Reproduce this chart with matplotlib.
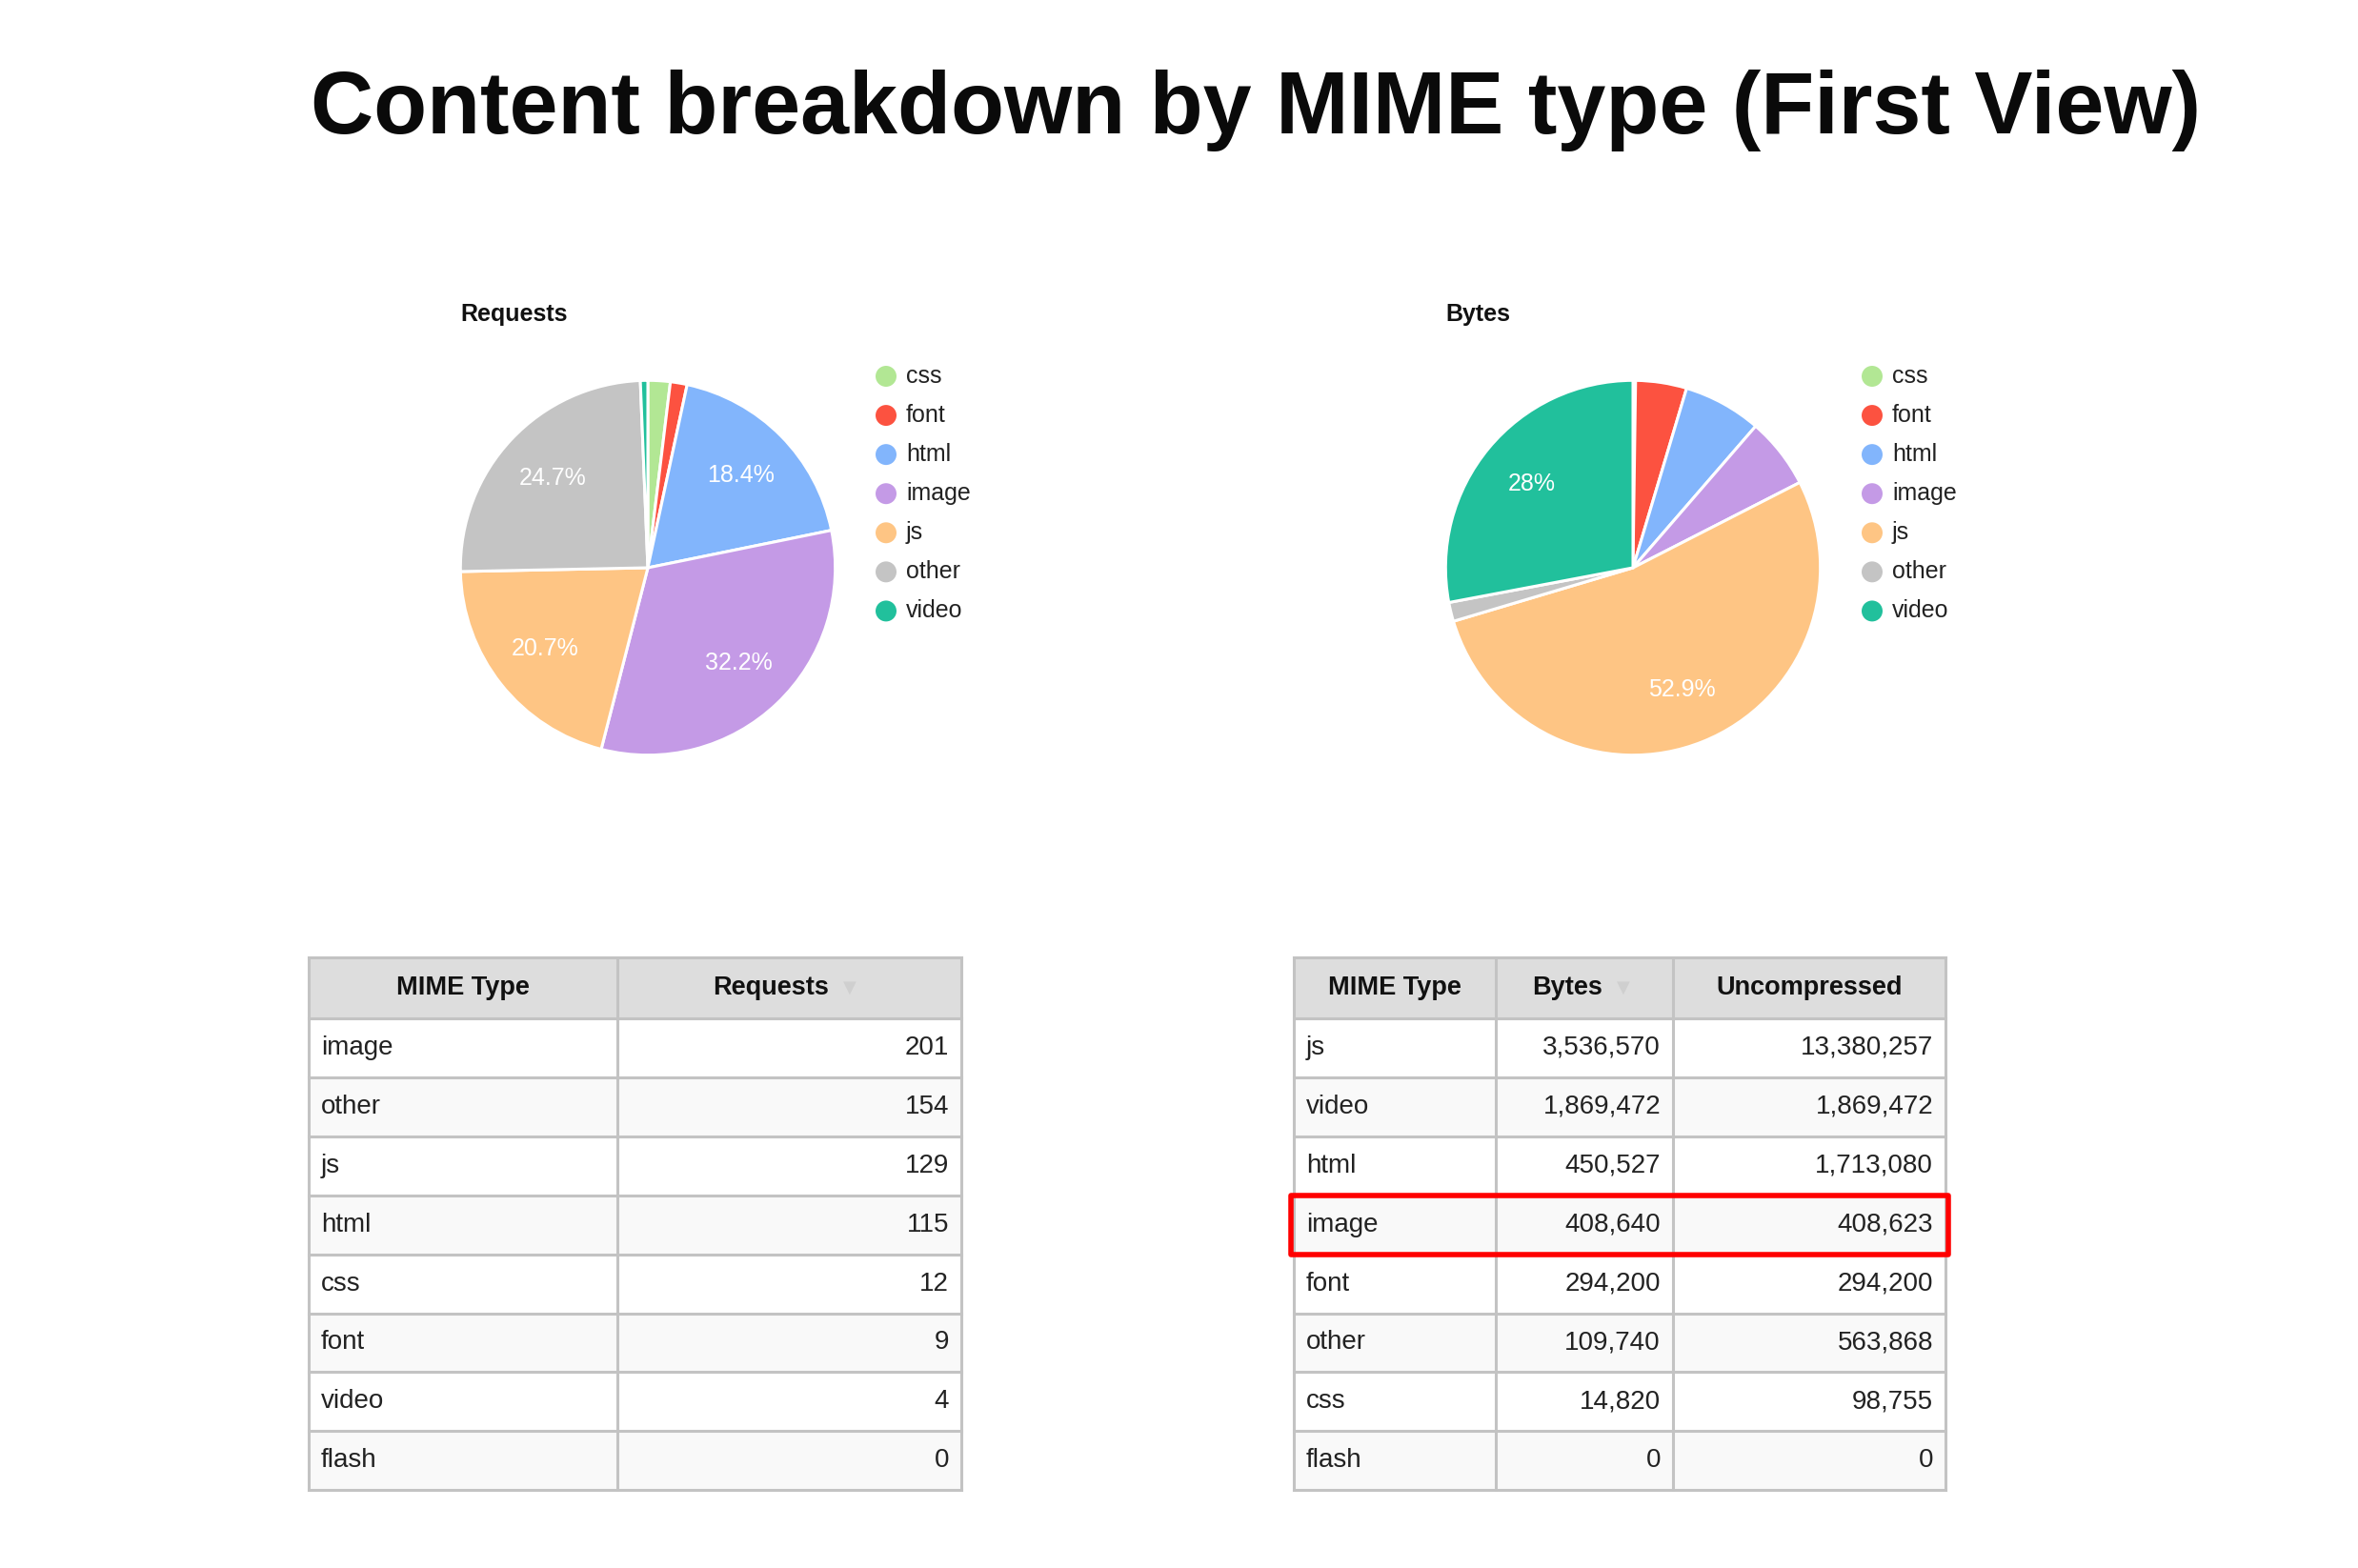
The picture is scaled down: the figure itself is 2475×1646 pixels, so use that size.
import matplotlib
matplotlib.use("Agg")
import matplotlib.pyplot as plt
from matplotlib.patches import Rectangle

plt.rcParams['font.family'] = ['Liberation Sans', 'DejaVu Sans']

W, H = 2475, 1646

# pie data (legend / slice order)
mime_types = ['css', 'font', 'html', 'image', 'js', 'other', 'video']
mime_colors = ['#b2e794', '#fc5240', '#82b5fc', '#c49ae6', '#fec584', '#c4c4c4', '#21c09c']
pie_requests = [12, 9, 115, 201, 129, 154, 4]
pie_bytes = [14820, 294200, 450527, 408640, 3536570, 109740, 1869472]

# table data
req_table_types = ['image', 'other', 'js', 'html', 'css', 'font', 'video', 'flash']
req_table_counts = [201, 154, 129, 115, 12, 9, 4, 0]

bytes_table_types = ['js', 'video', 'html', 'image', 'font', 'other', 'css', 'flash']
bytes_table_bytes = [3536570, 1869472, 450527, 408640, 294200, 109740, 14820, 0]
bytes_table_uncomp = [13380257, 1869472, 1713080, 408623, 294200, 563868, 98755, 0]
highlight_row = 'image'

fig = plt.figure(figsize=(W / 100, H / 100), dpi=100)
fig.patch.set_facecolor('white')

bg = fig.add_axes([0, 0, 1, 1])
bg.set_xlim(0, W)
bg.set_ylim(H, 0)
bg.axis('off')

bg.text(1318, 116, 'Content breakdown by MIME type (First View)', fontsize=66,
        fontweight='bold', ha='center', va='center', color='#0a0a0a')


def pct_label(p):
    if p < 10:
        return ''
    s = '%.1f' % p
    if s.endswith('.0'):
        s = s[:-2]
    return s + '%'


def draw_pie(cx, cy, values, title, leg_x):
    r = 196.7
    box = 205
    ax = fig.add_axes([(cx - box) / W, (H - cy - box) / H, 2 * box / W, 2 * box / H])
    ax.pie(values, colors=mime_colors, startangle=90, counterclock=False,
           autopct=pct_label, pctdistance=0.7,
           wedgeprops=dict(edgecolor='white', linewidth=2.2),
           textprops=dict(color='white', fontsize=18))
    ax.set_xlim(-box / r, box / r)
    ax.set_ylim(-box / r, box / r)
    ax.set_aspect('equal')
    ax.axis('off')

    bg.text(cx - 197, 330, title, fontsize=18, fontweight='bold',
            ha='left', va='center', color='#111111')
    for i, name in enumerate(mime_types):
        y = 395 + 41.07 * i
        bg.scatter([leg_x], [y], s=250, color=mime_colors[i], edgecolors='none')
        bg.text(leg_x + 21, y, name, fontsize=18, ha='left', va='center', color='#222222')


draw_pie(680, 596, pie_requests, 'Requests', 930)
draw_pie(1714, 596, pie_bytes, 'Bytes', 1965)

# tables
border = '#c3c3c3'
head_bg = '#dddddd'
top = 1005
head_h = 64
row_h = 61.9


def draw_table(col_x, headers, columns, sort_col, text_right):
    x0, x1 = col_x[0], col_x[-1]
    nrows = len(columns[0])
    bg.add_patch(Rectangle((x0, top), x1 - x0, head_h, facecolor=head_bg,
                           edgecolor='none'))
    for r in range(nrows):
        y = top + head_h + r * row_h
        fc = '#f9f9f9' if r % 2 == 1 else 'white'
        bg.add_patch(Rectangle((x0, y), x1 - x0, row_h, facecolor=fc, edgecolor='none'))
    bottom = top + head_h + nrows * row_h
    # grid lines
    for x in col_x:
        bg.plot([x, x], [top, bottom], color=border, lw=2.2)
    bg.plot([x0, x1], [top, top], color=border, lw=2.2)
    for r in range(nrows + 1):
        y = top + head_h + r * row_h
        bg.plot([x0, x1], [y, y], color=border, lw=2.2)
    # headers
    yh = top + head_h / 2
    for c, h in enumerate(headers):
        xm = (col_x[c] + col_x[c + 1]) / 2
        if c == sort_col:
            bg.text(text_right, yh, h, fontsize=19.5, fontweight='bold', ha='right',
                    va='center', color='#111111')
            bg.text(text_right + 15, yh, '\u25bc', fontsize=13, ha='left', va='center',
                    color='#cfcfcf', family='DejaVu Sans')
        else:
            bg.text(xm, yh, h, fontsize=19.5, fontweight='bold', ha='center',
                    va='center', color='#111111')
    # cells
    for c, col in enumerate(columns):
        for r, v in enumerate(col):
            y = top + head_h + (r + 0.5) * row_h
            if isinstance(v, str):
                bg.text(col_x[c] + 13, y, v, fontsize=20, ha='left', va='center',
                        color='#222222')
            else:
                bg.text(col_x[c + 1] - 13, y, '{:,}'.format(v), fontsize=20,
                        ha='right', va='center', color='#222222')


draw_table([324, 648, 1009], ['MIME Type', 'Requests'],
           [req_table_types, req_table_counts], 1, 870)
draw_table([1358, 1570, 1756, 2042], ['MIME Type', 'Bytes', 'Uncompressed'],
           [bytes_table_types, bytes_table_bytes, bytes_table_uncomp], 1, 1682)

hr = bytes_table_types.index(highlight_row)
hy = top + head_h + hr * row_h
bg.add_patch(Rectangle((1355, hy), 2045 - 1355, row_h, facecolor='none',
                       edgecolor='#ff0000', lw=4, joinstyle='round', zorder=5))

fig.savefig('out.png', dpi=100, facecolor='white')
